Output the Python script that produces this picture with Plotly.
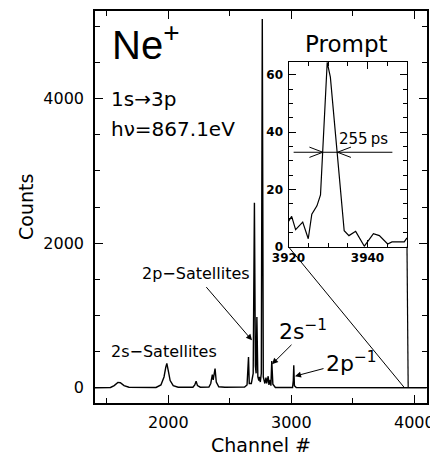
import plotly.graph_objects as go

# ---------------- data ----------------
channel = [1400, 1530, 1560, 1590, 1610, 1640, 1680, 1900, 1940, 1965, 1980, 1988, 1998, 2015, 2040, 2080,
           2200, 2215, 2226, 2237, 2260, 2330, 2345, 2358, 2365, 2372, 2380, 2390, 2410, 2460,
           2620, 2640, 2648, 2652, 2658, 2675, 2690, 2700, 2708, 2714, 2720, 2728, 2736, 2740, 2748,
           2756, 2764, 2772, 2785, 2794, 2800, 2812, 2818, 2828, 2834, 2841, 2850, 2870,
           3010, 3016, 3020, 3025, 3040, 4100]
counts = [0, 5, 30, 75, 70, 30, 8, 5, 40, 150, 290, 336, 250, 100, 30, 8,
          8, 40, 92, 30, 8, 10, 60, 184, 110, 200, 267, 80, 15, 8,
          10, 40, 250, 427, 60, 60, 200, 2560, 300, 200, 980, 150, 100, 150, 80,
          200, 5100, 150, 60, 140, 60, 160, 40, 110, 30, 372, 50, 5,
          5, 100, 312, 30, 5, 0]

prompt_channel = [3920.0, 3920.8, 3921.8, 3923.6, 3925.0, 3925.9, 3927.2, 3928.1, 3929.8, 3930.6,
                  3934.1, 3935.3, 3937.0, 3939.2, 3941.5, 3943.0, 3945.1, 3946.2, 3949.3, 3950.0]
prompt_counts = [8.9, 10.6, 6.0, 8.6, 2.8, 11.4, 14.3, 18.1, 64.4, 59.2,
                 5.6, 3.9, 5.4, 0.2, 4.6, 3.9, 1.0, 1.7, 1.7, 3.1]

fwhm_level = 33
fwhm_left, fwhm_right = 3928.7, 3932.4

# ---------------- layout geometry (page pixels) ----------------
PAGE_W, PAGE_H = 438, 456
BODY = 8                      # default body margin of the html page
W, H = PAGE_W - BODY, PAGE_H - BODY
PL, PR, PT, PB = 95, 427, 9, 403   # plot frame in page pixels
XR = [1404, 4103]
YR = [-210, 5210]
IX = [3920, 3950]
IY = [0, 64.6]
PW, PH = PR - PL, PB - PT


def px(xp):
    return (xp - PL) / PW


def py(yp):
    return (PB - yp) / PH


inset_dom_x = [px(288.5), px(407)]
inset_dom_y = [py(246), py(60)]

FONT = "DejaVu Sans"
BLACK = "black"

fig = go.Figure()
fig.add_trace(go.Scatter(x=channel, y=counts, mode="lines",
                         line=dict(color=BLACK, width=1.4), showlegend=False,
                         xaxis="x", yaxis="y"))
fig.add_trace(go.Scatter(x=prompt_channel, y=prompt_counts, mode="lines",
                         line=dict(color=BLACK, width=1.2), showlegend=False,
                         xaxis="x2", yaxis="y2"))

axis_common = dict(showgrid=False, zeroline=False, showline=True, linecolor=BLACK,
                   mirror="ticks", ticks="inside", tickcolor=BLACK)

fig.update_layout(
    width=W, height=H,
    margin=dict(l=PL - BODY, r=PAGE_W - PR, t=PT - BODY, b=PAGE_H - PB, pad=0),
    paper_bgcolor="white", plot_bgcolor="white",
    font=dict(family=FONT, color=BLACK),
    xaxis=dict(axis_common, range=XR, domain=[0, 1], linewidth=1.5, ticklen=8, tickwidth=1.2,
               tick0=0, dtick=1000, tickfont=dict(size=16, family=FONT),
               ticklabelstandoff=4,
               minor=dict(dtick=500, ticklen=5, ticks="inside", tickwidth=1.2, tickcolor=BLACK)),
    yaxis=dict(axis_common, range=YR, domain=[0, 1], linewidth=1.5, ticklen=8, tickwidth=1.2,
               tick0=0, dtick=2000, tickfont=dict(size=16, family=FONT),
               ticklabelstandoff=6,
               minor=dict(dtick=500, ticklen=5, ticks="inside", tickwidth=1.2, tickcolor=BLACK)),
    xaxis2=dict(axis_common, range=IX, domain=inset_dom_x, anchor="y2", linewidth=1.2,
                ticklen=7, tickwidth=1, tick0=3920, dtick=20,
                tickfont=dict(size=12, family=FONT, weight="bold"), ticklabelstandoff=0,
                minor=dict(dtick=5, ticklen=4, ticks="inside", tickwidth=1, tickcolor=BLACK)),
    yaxis2=dict(axis_common, range=IY, domain=inset_dom_y, anchor="x2", linewidth=1.2,
                ticklen=7, tickwidth=1, tick0=0, dtick=20,
                tickfont=dict(size=12, family=FONT, weight="bold"), ticklabelstandoff=2,
                minor=dict(dtick=5, ticklen=4, ticks="inside", tickwidth=1, tickcolor=BLACK)),
)


def mx(xp):  # main-axis data x from page pixel
    return XR[0] + (xp - PL) / PW * (XR[1] - XR[0])


def my(yp):
    return YR[0] + (PB - yp) / PH * (YR[1] - YR[0])


ann = []


def text(t, xp, yp, size, xanchor="center", yanchor="middle", angle=0, family=FONT):
    ann.append(dict(text=t, x=px(xp), y=py(yp), xref="paper", yref="paper",
                    xanchor=xanchor, yanchor=yanchor, showarrow=False, textangle=angle,
                    font=dict(size=size, family=family, color=BLACK)))


text("Ne<sup>+</sup>", 110, 40, 40, xanchor="left", family="Liberation Sans")
text("1s\u21923p", 109, 97, 20, xanchor="left")
text("h\u03bd=867.1eV", 109, 128, 20, xanchor="left")
text("Prompt", 346, 42, 23)
text("2p\u2212Satellites", 196, 273, 16)
text("2s\u2212Satellites", 164, 351, 16)
text("2s<sup>\u22121</sup>", 277, 330, 22, xanchor="left")
text("2p<sup>\u22121</sup>", 324, 362, 22, xanchor="left")
text("Counts", 26, 206, 19, angle=-90)
text("Channel #", 261, 445, 19)

# arrows pointing at the peaks (head, tail in page pixel positions)
for head, tail in [((252, 340), (205, 285)), ((272, 364), (293, 343)), ((295, 376), (325, 368))]:
    ann.append(dict(x=mx(head[0]), y=my(head[1]), ax=mx(tail[0]), ay=my(tail[1]),
                    xref="x", yref="y", axref="x", ayref="y", showarrow=True, text="",
                    arrowhead=2, arrowsize=1.2, arrowwidth=1, arrowcolor=BLACK))

# FWHM label
ann.append(dict(text="255\u2009ps", x=3939.1, y=37.7, xref="x2", yref="y2", showarrow=False,
                font=dict(size=15, family=FONT, color=BLACK)))
fig.update_layout(annotations=ann)

shapes = []
# FWHM marker
shapes.append(dict(type="line", xref="x2", yref="y2", x0=3921.3, x1=3946.3, y0=fwhm_level, y1=fwhm_level,
                   line=dict(color=BLACK, width=1)))
for xc, d in [(fwhm_left, -1), (fwhm_right, 1)]:
    for s in (1, -1):
        shapes.append(dict(type="line", xref="x2", yref="y2", x0=xc, y0=fwhm_level,
                           x1=xc + d * 3.4, y1=fwhm_level + s * 1.8, line=dict(color=BLACK, width=1)))


# zoom connectors from inset corners to the prompt position on the main axis
def dpx(xd):
    return (xd - XR[0]) / (XR[1] - XR[0])


def dpy(yd):
    return (yd - YR[0]) / (YR[1] - YR[0])


shapes.append(dict(type="line", xref="paper", yref="paper", x0=inset_dom_x[0], y0=inset_dom_y[0],
                   x1=dpx(IX[0]), y1=dpy(0), line=dict(color=BLACK, width=1)))
shapes.append(dict(type="line", xref="paper", yref="paper", x0=inset_dom_x[1], y0=inset_dom_y[0],
                   x1=dpx(IX[1]), y1=dpy(0), line=dict(color=BLACK, width=1.2)))
fig.update_layout(shapes=shapes)

fig.write_html("out.html")
